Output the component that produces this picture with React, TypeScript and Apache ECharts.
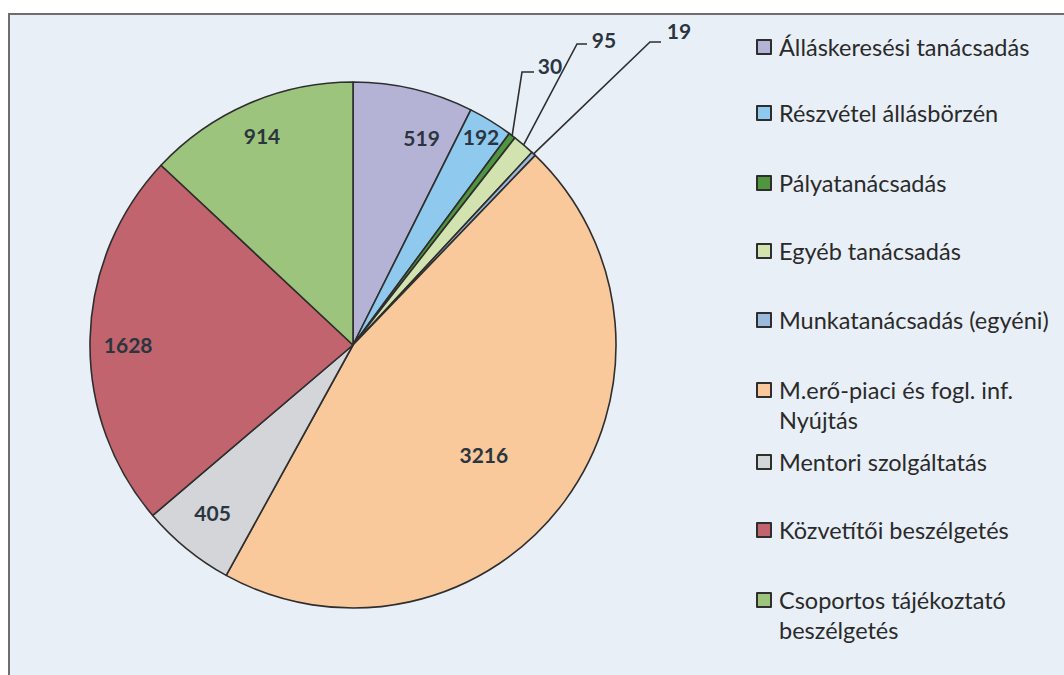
import React, { useEffect, useRef } from "react";
import * as echarts from "echarts";

const categories = [
  "Álláskeresési tanácsadás",
  "Részvétel állásbörzén",
  "Pályatanácsadás",
  "Egyéb tanácsadás",
  "Munkatanácsadás (egyéni)",
  "M.erő-piaci és fogl. inf. Nyújtás",
  "Mentori szolgáltatás",
  "Közvetítői beszélgetés",
  "Csoportos tájékoztató beszélgetés",
];
const values = [519, 192, 30, 95, 19, 3216, 405, 1628, 914];
const legendLines = [
  "Álláskeresési tanácsadás",
  "Részvétel állásbörzén",
  "Pályatanácsadás",
  "Egyéb tanácsadás",
  "Munkatanácsadás (egyéni)",
  "M.erő-piaci és fogl. inf.\nNyújtás",
  "Mentori szolgáltatás",
  "Közvetítői beszélgetés",
  "Csoportos tájékoztató\nbeszélgetés",
];
const colors = [
  "#b5b3d5",
  "#8fcaee",
  "#4f963f",
  "#d3e3b0",
  "#9bb9da",
  "#f9c99c",
  "#d3d5d8",
  "#c1646d",
  "#9dc47c",
];

// layout
const CX = 353;
const CY = 345;
const R = 263;
const insideK = [0.83, 0.93, 0, 0, 0, 0.65, 0.83, 0.855, 0.87];
const insideDA = [5, 0, 0, 0, 0, 3.7, 0.8, -1.3, 0];
// outside labels: [textCenterX, textCenterY, lineEndX, lineY, elbowX]
const outside: Record<number, number[]> = {
  2: [550, 65, 534, 72, 522],
  3: [604, 39, 587, 44, 577],
  4: [679, 30, 661, 42, 650],
};
const legendCenters = [47, 113, 183, 251, 320, 390, 462, 530, 600];
const LH = 30;

export default function App() {
  const ref = useRef<HTMLDivElement>(null);
  useEffect(() => {
    if (!ref.current) return;
    const chart = echarts.init(ref.current, undefined, { renderer: "svg" });
    const total = values.reduce((a, b) => a + b, 0);
    const mid = (i: number) => {
      let s = 0;
      for (let j = 0; j < i; j++) s += values[j];
      return ((s + values[i] / 2) / total) * 360;
    };
    const legends = categories.map((name, i) => {
      const two = legendLines[i].indexOf("\n") >= 0;
      return {
        data: [name],
        orient: "vertical",
        left: 756,
        top: two ? legendCenters[i] - 1.5 * LH : legendCenters[i] - LH / 2,
        padding: 0,
        itemWidth: 14,
        itemHeight: 14,
        icon: "rect",
        formatter: () => (two ? "\n" + legendLines[i] : legendLines[i]),
        textStyle: {
          fontFamily: "Lato",
          fontSize: 23.5,
          color: "#2a2a2a",
          lineHeight: LH,
          padding: [0, 0, 0, 3],
        },
      };
    });
    chart.setOption({
      animation: false,
      backgroundColor: "#ffffff",
      graphic: [
        {
          type: "rect",
          z: -10,
          silent: true,
          shape: { x: 9, y: 14, width: 1100, height: 700 },
          style: { fill: "#e9eff7", stroke: "#6e6e6e", lineWidth: 2 },
        },
      ],
      legend: legends,
      series: [
        {
          type: "pie",
          center: [CX, CY],
          radius: R,
          startAngle: 90,
          clockwise: true,
          avoidLabelOverlap: false,
          itemStyle: { borderColor: "#2e2e2e", borderWidth: 1.6 },
          label: {
            show: true,
            position: "inside",
            formatter: "{c}",
            fontFamily: "Lato",
            fontWeight: "bold",
            fontSize: 21,
            color: "#2b3540",
          },
          labelLine: { show: false, lineStyle: { color: "#2e2e2e", width: 1.6 } },
          data: values.map((v, i) => ({
            name: categories[i],
            value: v,
            itemStyle: { color: colors[i] },
            ...(outside[i]
              ? {
                  label: { position: "outside" },
                  labelLine: { show: true, length: 10, length2: 10 },
                }
              : {}),
          })),
          labelLayout: (p: any) => {
            const i = p.dataIndex;
            const a = mid(i);
            if (outside[i]) {
              const o = outside[i];
              const rad = (a * Math.PI) / 180;
              const p0 = [CX + R * Math.sin(rad), CY - R * Math.cos(rad)];
              return {
                x: o[0],
                y: o[1],
                align: "center",
                verticalAlign: "middle",
                labelLinePoints: [p0, [o[4], o[3]], [o[2], o[3]]],
              };
            }
            const rad = ((a + insideDA[i]) * Math.PI) / 180;
            const d = R * insideK[i];
            return {
              x: CX + d * Math.sin(rad),
              y: CY - d * Math.cos(rad),
              align: "center",
              verticalAlign: "middle",
            };
          },
        },
      ],
    });
    return () => chart.dispose();
  }, []);
  return (
    <div
      ref={ref}
      style={{ position: "fixed", left: 0, top: 0, width: 1064, height: 675 }}
    />
  );
}
